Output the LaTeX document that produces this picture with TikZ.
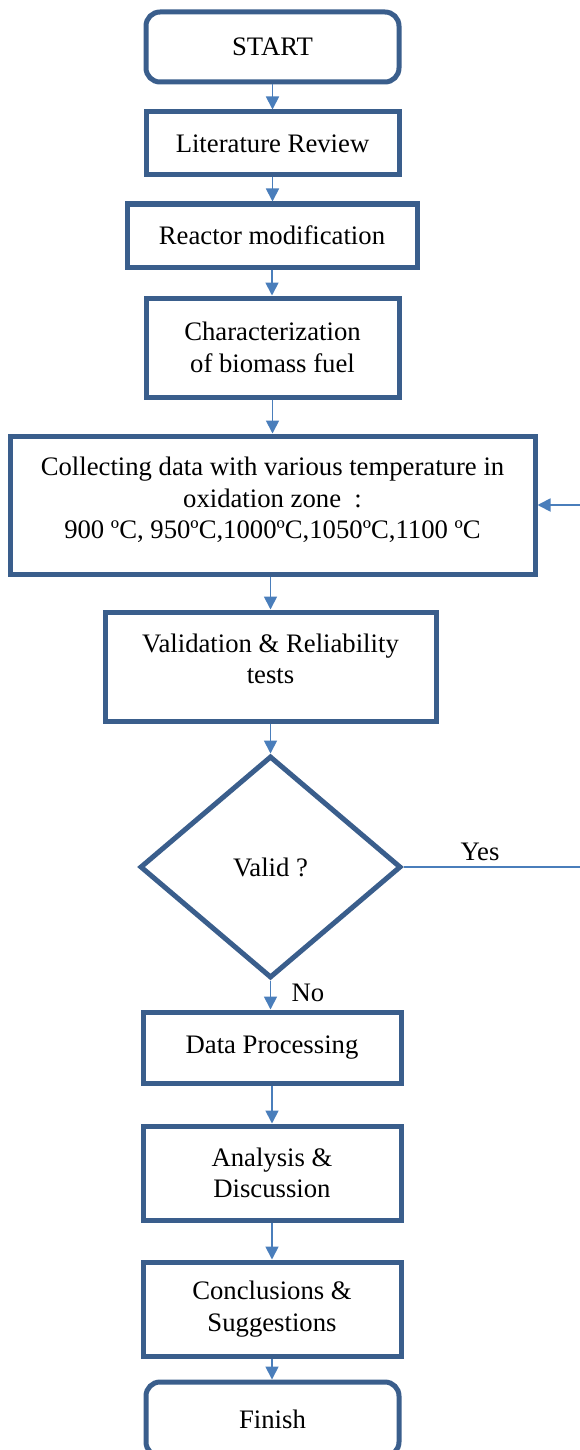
\documentclass[tikz,border=0pt]{standalone}
\usepackage{fontspec}
\setmainfont{Liberation Serif}
\usetikzlibrary{shapes.geometric,arrows.meta,calc}
\definecolor{boxblue}{HTML}{3A5E8C}
\definecolor{arrblue}{HTML}{4A7EBB}
\begin{document}
\begin{tikzpicture}[x=1pt,y=1pt,
  every node/.style={font=\fontsize{26.7}{31.5}\selectfont},
  box/.style={draw=boxblue, line width=5pt, fill=white, rectangle, align=center, inner sep=0pt},
  term/.style={box, rounded corners=14pt},
  decision/.style={draw=boxblue, line width=5pt, fill=white, diamond, inner sep=0pt, minimum width=261pt, minimum height=222pt},
  flow/.style={draw=arrblue, line width=1.8pt, -{Triangle[length=13pt,width=13pt]}},
  plain/.style={draw=arrblue, line width=1.8pt},
  lbl/.style={inner sep=0pt}
]
\useasboundingbox (0,0) rectangle (580,-1450);
\node[term, minimum width=253pt, minimum height=70pt] (start) at (272.5,-47) {START};
\node[box, minimum width=253pt, minimum height=63pt] (lit) at (272.5,-143.5) {Literature Review};
\node[box, minimum width=290pt, minimum height=63pt] (reac) at (272,-235.5) {Reactor modification};
\node[box, minimum width=253pt, minimum height=99pt] (char) at (272.5,-347.5) {Characterization\\of biomass fuel};
\node[box, minimum width=525pt, minimum height=138pt, text depth=14pt] (coll) at (272.5,-505) {Collecting data with various temperature in\\oxidation zone\ \ :\\900 ºC, 950ºC,1000ºC,1050ºC,1100 ºC};
\node[box, minimum width=331pt, minimum height=109pt, text depth=16pt] (val) at (270.5,-666.5) {Validation \& Reliability\\tests};
\node[decision] (dec) at (270.5,-867) {Valid ?};
\node[box, minimum width=258pt, minimum height=71pt] (dp) at (272,-1047.5) {Data Processing};
\node[box, minimum width=258pt, minimum height=94pt] (ana) at (272,-1173) {Analysis \&\\Discussion};
\node[box, minimum width=258pt, minimum height=94pt] (con) at (272,-1309) {Conclusions \&\\Suggestions};
\node[term, minimum width=253pt, minimum height=74pt] (fin) at (272.5,-1419) {Finish};

\coordinate (yesend) at (582,-867);
\coordinate (backin) at (582,-505);
\node[lbl] (yes) at (480,-852) {Yes};
\node[lbl] (no) at (308,-993) {No};

\draw[flow] (start.south) -- (start.south |- lit.north);
\draw[flow] (lit.south) -- (lit.south |- reac.north);
\draw[flow] (reac.south) -- (reac.south |- char.north);
\draw[flow] (char.south) -- (char.south |- coll.north);
\draw[flow] (coll.south -| val.north) -- (val.north);
\draw[flow] (val.south -| dec.north) -- (dec.north);
\draw[flow] (dec.south) -- (dec.south |- dp.north);
\draw[flow] (dp.south) -- (dp.south |- ana.north);
\draw[flow] (ana.south) -- (ana.south |- con.north);
\draw[flow] (con.south) -- (con.south |- fin.north);
\draw[plain] (dec.east) -- (yesend);
\draw[flow] (backin) -- (coll.east);
\end{tikzpicture}
\end{document}
